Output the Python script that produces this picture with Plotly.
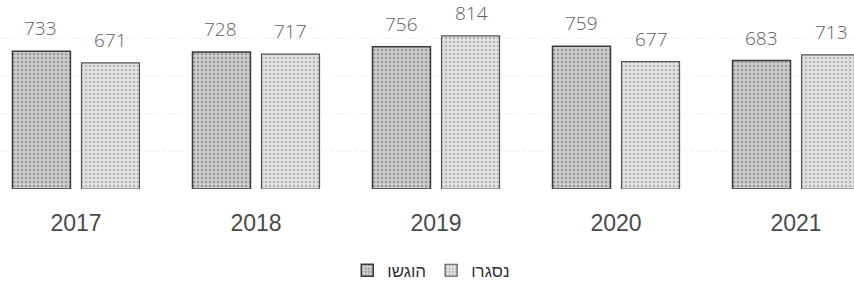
import plotly.graph_objects as go

years = ["2017", "2018", "2019", "2020", "2021"]
submitted = [733, 728, 756, 759, 683]   # הוגשו
closed = [671, 717, 814, 677, 713]      # נסגרו
series_names = ["הוגשו", "נסגרו"]

fig = go.Figure()
fig.add_trace(go.Bar(
    x=years, y=submitted, name=series_names[0],
    marker=dict(color="#c0c0c0", line=dict(color="#3a3a3a", width=1.5),
                pattern=dict(shape=".", fgcolor="#666666", bgcolor="#cecece", size=4, solidity=0.35)),
))
fig.add_trace(go.Bar(
    x=years, y=closed, name=series_names[1],
    marker=dict(color="#d6d6d6", line=dict(color="#555555", width=1.2),
                pattern=dict(shape=".", fgcolor="#888888", bgcolor="#e2e2e2", size=4, solidity=0.3)),
))

# value labels above bars (category axis positions are indexes)
annotations = []
for vals, shift in ((submitted, -35), (closed, 35)):
    for i, v in enumerate(vals):
        annotations.append(dict(
            x=i, y=v, text=str(v), showarrow=False, xref="x", yref="y",
            xshift=shift, yshift=23, yanchor="middle", xanchor="center",
            font=dict(family="Open Sans", size=19, color="#606060", weight=300),
        ))

fig.update_layout(
    width=854, height=288,
    margin=dict(l=0, r=0, t=0, b=99, autoexpand=False),
    paper_bgcolor="white", plot_bgcolor="white",
    barmode="group", bargap=0.233, bargroupgap=0.16,
    showlegend=True,
    legend=dict(orientation="h", x=0.505, xanchor="center", xref="container",
                y=0.06, yanchor="middle", yref="container",
                font=dict(family="Liberation Sans", size=17, color="#333333"),
                traceorder="normal", itemwidth=30),
    annotations=annotations,
    xaxis=dict(type="category", range=[-0.422, 4.322], showline=False, ticks="", showgrid=False,
               automargin=False, ticklabelstandoff=18,
               tickfont=dict(family="Liberation Sans", size=23, color="#4a4a4a")),
    yaxis=dict(range=[0, 1005], showticklabels=False, showline=False, zeroline=False,
               automargin=False,
               dtick=200, showgrid=True, gridcolor="#efefef", griddash="dot", gridwidth=1),
)

fig.write_html("out.html", post_script="document.body.style.margin='0';",
               config={"displayModeBar": False})
